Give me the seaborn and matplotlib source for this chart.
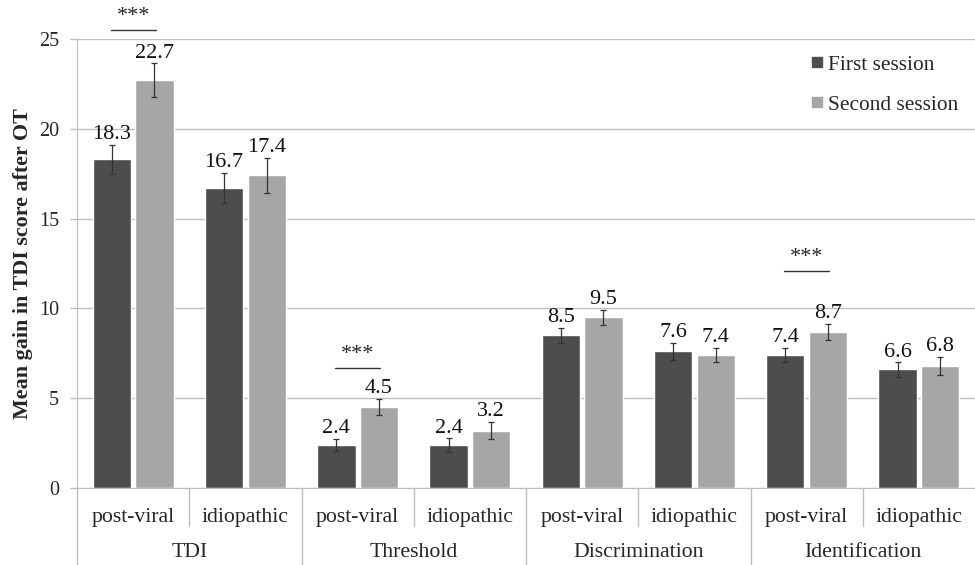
import matplotlib
matplotlib.use("Agg")
import matplotlib.pyplot as plt
import seaborn as sns
import pandas as pd
from matplotlib.lines import Line2D

# values
measures = ["TDI", "Threshold", "Discrimination", "Identification"]
groups = ["post-viral", "idiopathic"]
sessions = ["First session", "Second session"]
first_mean = [18.3, 16.7, 2.4, 2.4, 8.5, 7.6, 7.4, 6.6]
second_mean = [22.7, 17.4, 4.5, 3.2, 9.5, 7.4, 8.7, 6.8]
first_err = [0.8, 0.85, 0.35, 0.37, 0.4, 0.5, 0.4, 0.4]
second_err = [0.95, 1.0, 0.45, 0.5, 0.4, 0.4, 0.45, 0.5]
significant = [0, 2, 6]  # post-viral subgroups with *** marks
sig_heights = [25.5, 6.7, 12.1]

# Build long table for seaborn
keys = [f"{m} {g}" for m in measures for g in groups]
df = pd.DataFrame({
    "subgroup": keys * 2,
    "session": [sessions[0]] * 8 + [sessions[1]] * 8,
    "gain": first_mean + second_mean,
    "err": first_err + second_err,
})

sns.set_style("white")
plt.rcParams["font.family"] = ["Liberation Serif", "DejaVu Serif"]

dark, light = "#4d4d4d", "#a6a6a6"
grid_col = "#bdbdbd"

fig = plt.figure(figsize=(9.75, 5.65), dpi=100)
ax = fig.add_axes([0.079, 0.1363, 0.921, 0.7947])

sns.barplot(data=df, x="subgroup", y="gain", hue="session", order=keys,
            hue_order=sessions, palette=[dark, light], width=0.76, gap=0.1,
            errorbar=None, ax=ax, legend=False, zorder=2)

# error bars and value labels on top of each bar
for container, errs in zip(ax.containers, [first_err, second_err]):
    for patch, e in zip(container.patches, errs):
        xc = patch.get_x() + patch.get_width() / 2
        h = patch.get_height()
        ax.errorbar(xc, h, yerr=e, fmt="none", ecolor="#333333",
                    elinewidth=0.9, capsize=2.5, capthick=0.9, zorder=3)
        ax.annotate(f"{h:.1f}", (xc, h + e), xytext=(0, 0.5),
                    textcoords="offset points", ha="center", va="bottom",
                    fontsize=16, color="#111111")

# significance marks
for idx, yv in zip(significant, sig_heights):
    ax.plot([idx - 0.2, idx + 0.2], [yv, yv], color="#333333", lw=1,
            clip_on=False)
    ax.text(idx, yv + 0.2, "***", ha="center", va="bottom", fontsize=16,
            clip_on=False)

ax.set_ylim(0, 25)
ax.set_xlim(-0.5, 7.5)
ax.set_yticks([0, 5, 10, 15, 20, 25])
ax.yaxis.grid(True, color=grid_col, lw=1)
ax.set_axisbelow(True)
ax.tick_params(axis="y", left=True, length=5, width=1, color=grid_col,
               pad=8, labelsize=14.5)
ax.set_xticks([])
ax.set_xlabel("")
ax.set_ylabel("Mean gain in TDI score after OT", fontsize=15.8,
              fontweight="bold", labelpad=4)
for s in ["top", "right"]:
    ax.spines[s].set_visible(False)
ax.spines["left"].set_color(grid_col)
ax.spines["bottom"].set_color(grid_col)

# two-level category axis
trans = ax.get_xaxis_transform()
for i, k in enumerate(keys):
    ax.text(i, -0.065, groups[i % 2], transform=trans, ha="center",
            va="center", fontsize=15.7)
for j, m in enumerate(measures):
    ax.text(2 * j + 0.5, -0.144, m, transform=trans, ha="center",
            va="center", fontsize=15.7)
for xs in [0.5, 2.5, 4.5, 6.5]:
    ax.plot([xs, xs], [0, -0.085], transform=trans, color=grid_col, lw=1,
            clip_on=False)
for xs in [-0.5, 1.5, 3.5, 5.5]:
    ax.plot([xs, xs], [0, -0.175], transform=trans, color=grid_col, lw=1,
            clip_on=False)

handles = [Line2D([], [], marker="s", ls="", color=c, markersize=7.5)
           for c in (dark, light)]
ax.legend(handles, sessions, loc="upper right", bbox_to_anchor=(1.003, 1.008),
          frameon=False, fontsize=15.4, labelspacing=0.95, handletextpad=0.1,
          handlelength=0.8)

fig.savefig("out.png", dpi=100)
